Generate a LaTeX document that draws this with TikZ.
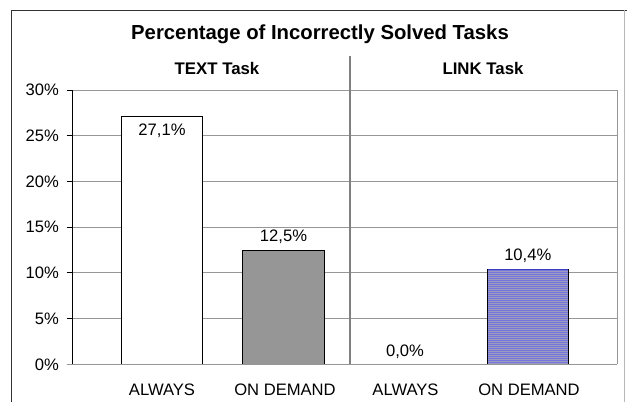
\documentclass[tikz,border=0pt]{standalone}
\usepackage{fontspec}
\setmainfont{Liberation Sans}
\definecolor{gridc}{RGB}{150,150,150}
\definecolor{framec}{RGB}{50,50,50}
\definecolor{barg}{RGB}{150,150,150}
\definecolor{barb}{RGB}{118,118,222}
\definecolor{stripec}{RGB}{155,155,190}
\definecolor{bartop}{RGB}{60,60,190}
\begin{document}
\begin{tikzpicture}[x=1pt,y=-1pt,
  lab/.style={font=\fontsize{16.6}{18}\selectfont, inner sep=0pt},
  ttl/.style={font=\bfseries\fontsize{20.3}{22}\selectfont, inner sep=0pt},
  sub/.style={font=\bfseries\fontsize{16.8}{18}\selectfont, inner sep=0pt},
  gridline/.style={draw=gridc, line width=1pt},
  barbox/.style={draw=black, line width=1pt},
]
\useasboundingbox (0,0) rectangle (627,402);
\fill[white] (0,0) rectangle (627,402);
% outer frame
\draw[line width=1.3pt, framec] (11.7,402) -- (11.7,10.3) -- (627,10.3);
\draw[line width=1pt, gridc!70] (624.3,10.3) -- (624.3,402);
% title and panel titles
\node[ttl] (title) at (320,34) {Percentage of Incorrectly Solved Tasks};
\node[sub] (textt) at (217,68) {TEXT Task};
\node[sub] (linkt) at (483,68) {LINK Task};
% grid and ticks
\foreach \v in {5,10,...,30} {
  \draw[gridline] (72,{364.3-\v*9.143}) -- (617,{364.3-\v*9.143});
}
\foreach \v in {0,5,...,30} {
  \draw[line width=1pt] (66.5,{364.3-\v*9.143}) -- (72,{364.3-\v*9.143});
  \node[lab, anchor=east] (t\v) at (59,{364.3-\v*9.143}) {\v\%};
}
\draw[gridline] (617,90) -- (617,364.3);
% divider
\draw[line width=1.3pt, gray] (350,56) -- (350,364.3);
% bars
\draw[barbox, fill=white] (121.7,364.3) rectangle (202.3,116.6);
\draw[barbox, fill=barg] (242.7,364.3) rectangle (324.3,250.0);
\fill[barb] (487,364.3) rectangle (568.5,269.2);
\foreach \yy in {271,273,...,363} {
  \draw[stripec, line width=0.6pt] (487,\yy) -- (568.5,\yy);
}
\draw[barbox] (487,364.3) rectangle (568.5,269.2);
\draw[bartop, line width=1pt] (487.5,269.2) -- (568,269.2);
% axes
\draw[gridline] (66.5,364.3) -- (617,364.3);
\draw[line width=1pt] (72,90) -- (72,364.3);
% value labels
\node[lab] (v1) at (162,130.5) {27,1\%};
\node[lab] (v2) at (283.5,236.5) {12,5\%};
\node[lab] (v3) at (405,351.7) {0,0\%};
\node[lab] (v4) at (527.8,255.5) {10,4\%};
% category labels
\node[lab] (c1) at (162,390) {ALWAYS};
\node[lab] (c2) at (285,390) {ON DEMAND};
\node[lab] (c3) at (405.5,390) {ALWAYS};
\node[lab] (c4) at (529,390) {ON DEMAND};
\end{tikzpicture}
\end{document}
